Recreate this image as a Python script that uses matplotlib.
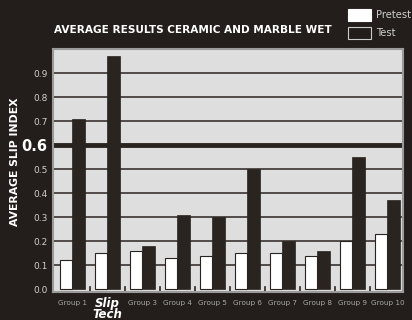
import matplotlib
matplotlib.use("Agg")
import matplotlib.pyplot as plt
import numpy as np
from matplotlib.patches import Rectangle

groups = ["Group 1", "Slip\nTech", "Group 3", "Group 4", "Group 5", "Group 6",
          "Group 7", "Group 8", "Group 9", "Group 10"]
pretest = [0.12, 0.15, 0.16, 0.13, 0.14, 0.15, 0.15, 0.14, 0.20, 0.23]
test = [0.71, 0.97, 0.18, 0.31, 0.30, 0.50, 0.20, 0.16, 0.55, 0.37]
yticks = [0.0, 0.1, 0.2, 0.3, 0.4, 0.5, 0.6, 0.7, 0.8, 0.9]

bg = "#231e1b"
dark = "#2a2420"
panel = "#dedede"
txt = "#cfcfcf"

fig = plt.figure(figsize=(4.12, 3.2), dpi=100, facecolor=bg)
ax = fig.add_axes([53/412, 1-292/320, 350/412, 243/320])
ax.set_facecolor(panel)

x = np.arange(len(groups))
w = 0.37
ax.bar(x - w/2, pretest, w, color="white", edgecolor=dark, linewidth=0.8, zorder=3)
ax.bar(x + w/2, test, w, color=dark, edgecolor=dark, linewidth=0.5, zorder=3)

for v in yticks[1:]:
    ax.axhline(v, color=dark, lw=3.5 if abs(v-0.6) < 1e-9 else 1.1, zorder=2)

for b in x[:-1]:
    ax.plot([b + 0.5, b + 0.5], [-0.012, 0.01], color=dark, lw=1.2, zorder=2)

ax.set_xlim(-0.557, 9.443)
ax.set_ylim(-0.012, 1.0)
ax.set_yticks(yticks)
ax.set_yticklabels([f"{v:.1f}" for v in yticks], color=txt, fontsize=6.5)
for lab in ax.get_yticklabels():
    if lab.get_text() == "0.6":
        lab.set_fontsize(10.5)
        lab.set_fontweight("bold")
        lab.set_color("white")
ax.tick_params(axis="y", length=0, pad=4)
ax.set_xticks(x)
ax.set_xticklabels([g if i != 1 else "" for i, g in enumerate(groups)],
                   color="#a8a8a8", fontsize=5.2)
ax.tick_params(axis="x", length=0, pad=6)
ax.text(1, -0.032, groups[1], transform=ax.transData, ha="center", va="top",
        color="white", fontsize=8.5, fontweight="bold", style="italic",
        linespacing=0.78)

for s in ax.spines.values():
    s.set_color("#9a9a9a")
    s.set_linewidth(1.5)

ax.set_ylabel("AVERAGE SLIP INDEX", color="white", fontsize=7.8, fontweight="bold")
ax.yaxis.set_label_coords(-33/350, (292-162)/243)
fig.text(54/412, 1-30/320, "AVERAGE RESULTS CERAMIC AND MARBLE WET", color="white",
         fontsize=7.6, fontweight="bold", va="center", ha="left")

# legend
fig.patches.append(Rectangle((348/412, 1-21/320), 23/412, 12/320, transform=fig.transFigure,
                             facecolor="white", edgecolor="white", lw=0.8))
fig.patches.append(Rectangle((348/412, 1-39/320), 23/412, 12/320, transform=fig.transFigure,
                             facecolor=bg, edgecolor="#cccccc", lw=0.8))
fig.text(376/412, 1-15/320, "Pretest", color=txt, fontsize=7.2, va="center")
fig.text(376/412, 1-33/320, "Test", color=txt, fontsize=7.2, va="center")

fig.savefig("out.png", dpi=100, facecolor=bg)
